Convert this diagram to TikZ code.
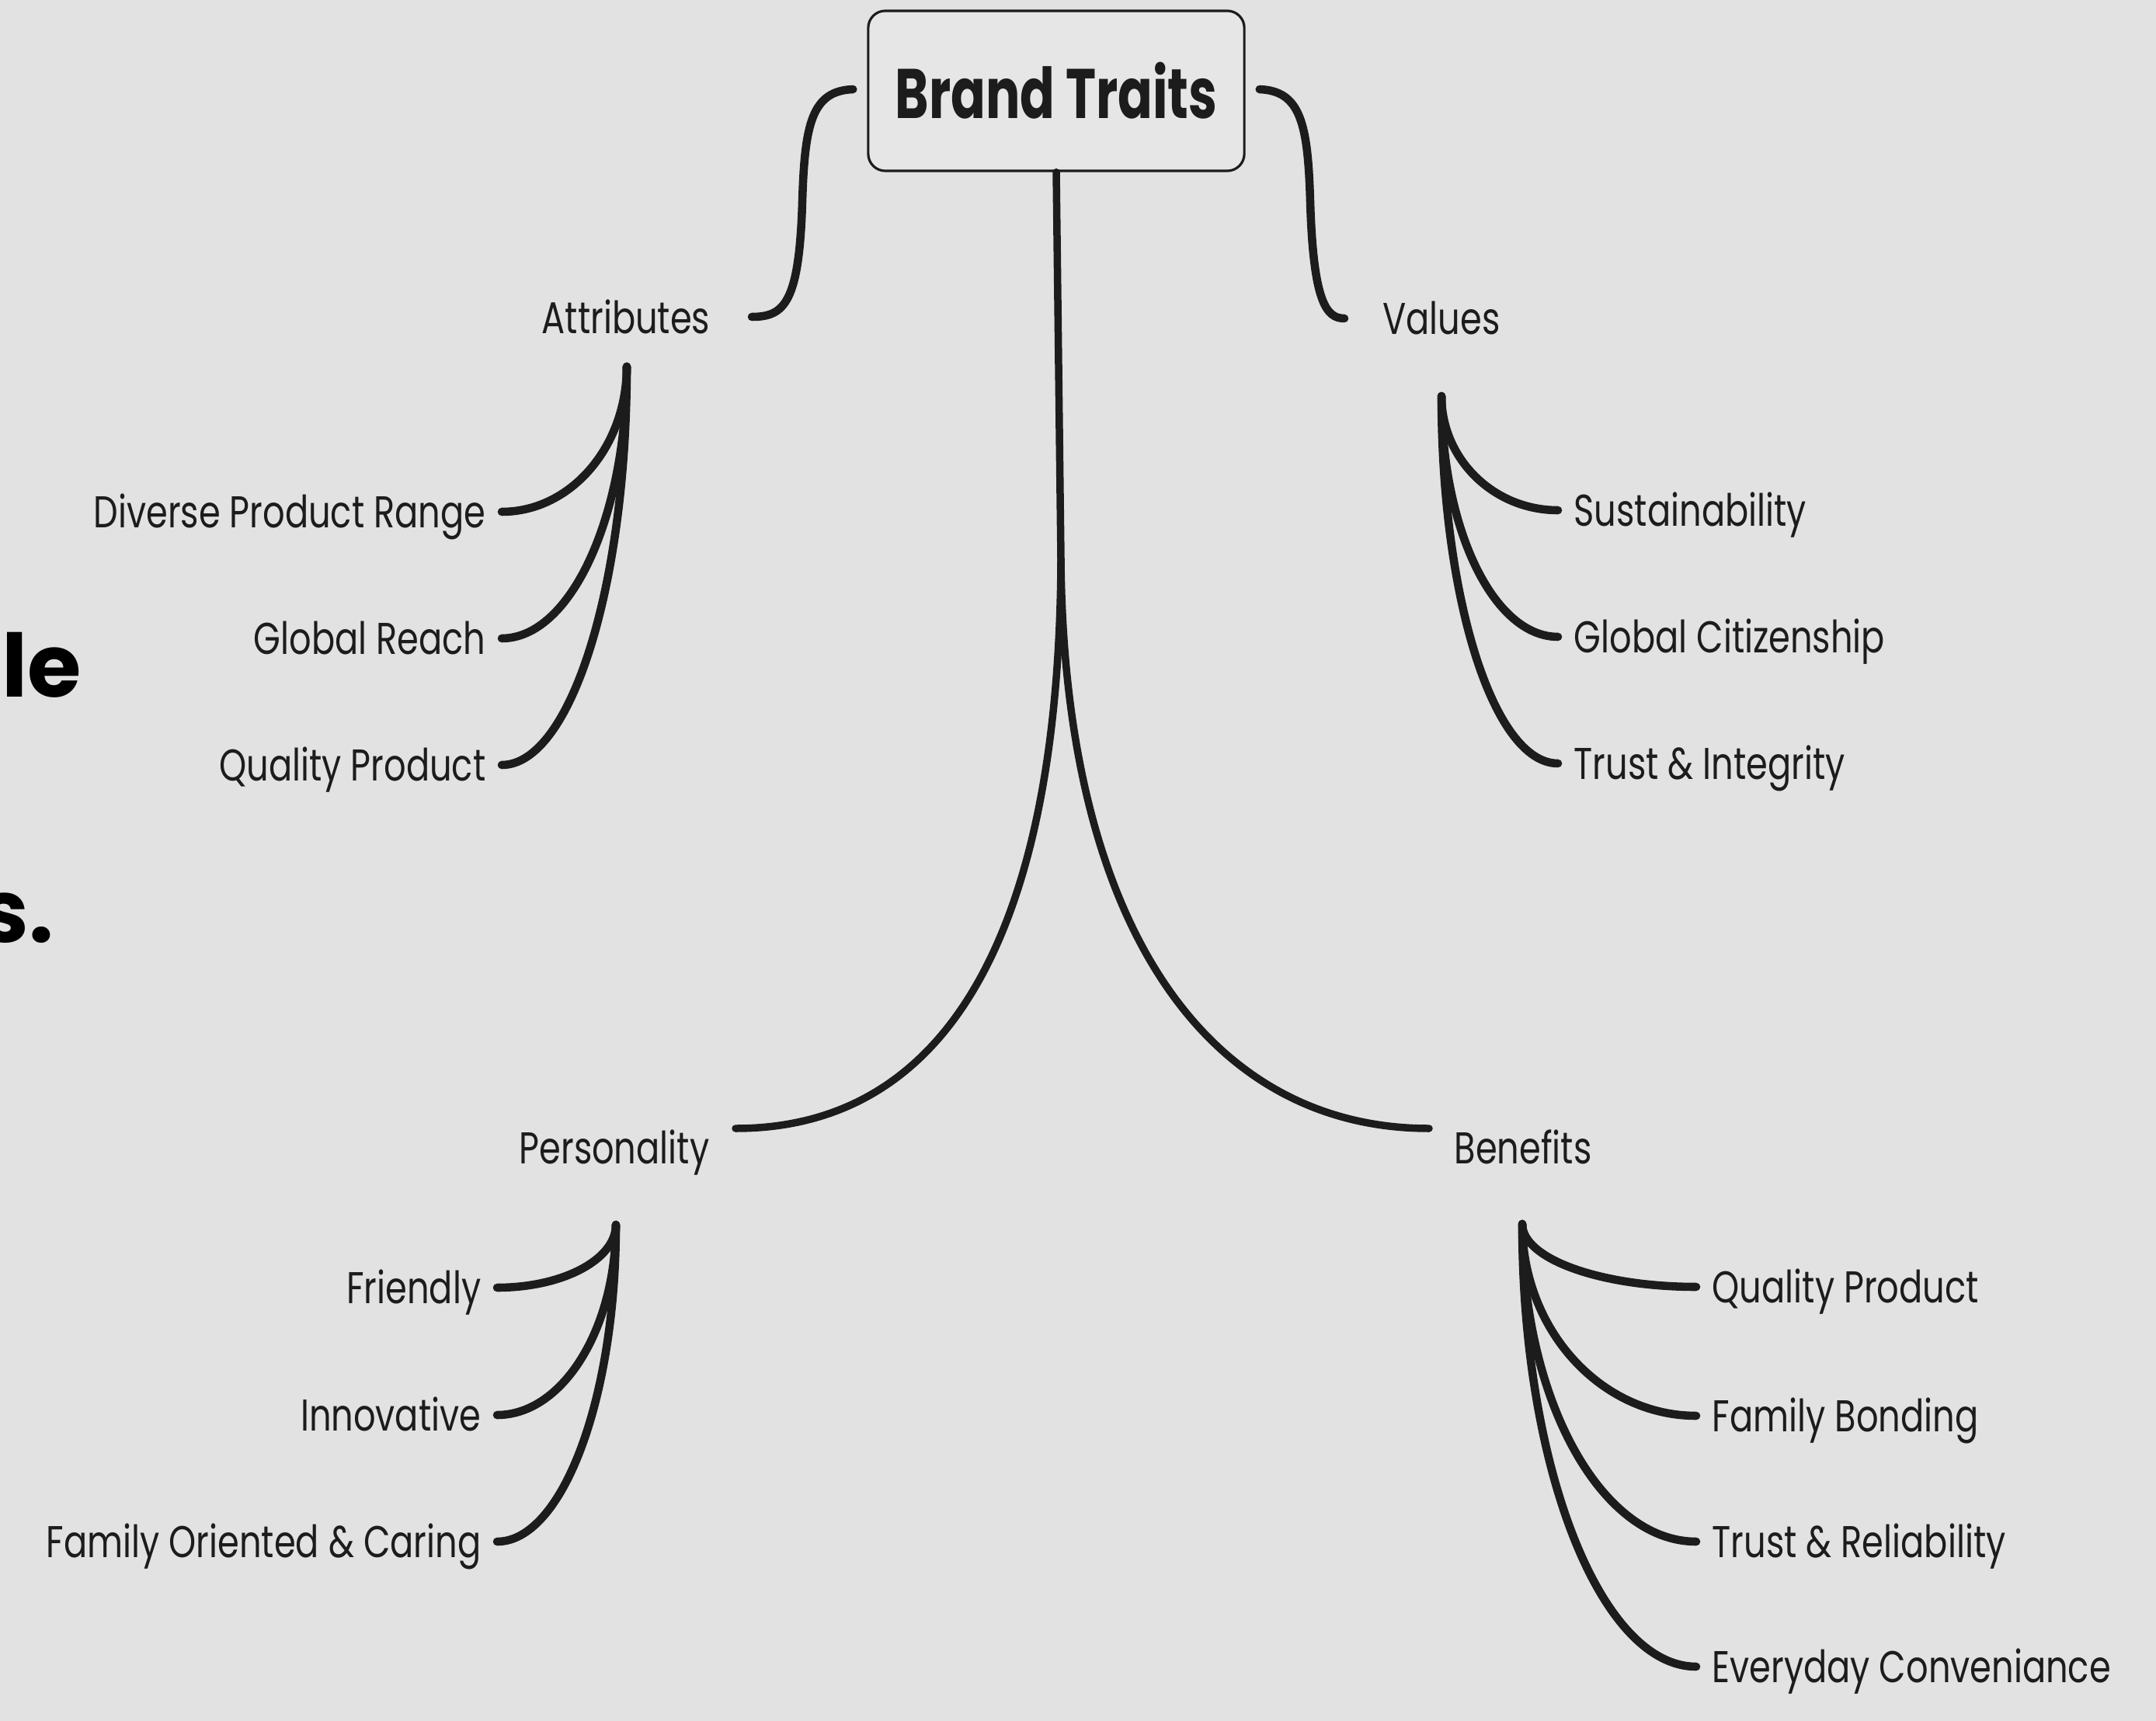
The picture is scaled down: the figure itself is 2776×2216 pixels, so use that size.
\documentclass[tikz,border=0pt]{standalone}
\usepackage{fontspec}
\setmainfont{Poppins}[FakeStretch=0.78]
\newfontfamily\titlefont{Poppins}[FakeStretch=0.73]
\newfontfamily\headfont{Poppins}
\usetikzlibrary{calc}
\definecolor{bgc}{HTML}{E2E2E2}
\definecolor{boxc}{HTML}{E6E6E6}
\definecolor{ink}{HTML}{1C1C1C}
\tikzset{
  conn/.style={draw=ink, line width=3pt, line cap=round},
  stem/.style={draw=ink, line width=2.7pt, line cap=round},
  lbl/.style={font=\fontsize{16.3}{18}\selectfont, text=ink, inner xsep=0.2cm, inner ysep=0pt, text height=0.40cm, text depth=0pt},
  head/.style={font=\fontsize{16.3}{18}\selectfont, text=ink, inner sep=0pt, text height=0.40cm, text depth=0pt},
  titlebox/.style={draw=ink, line width=0.9pt, rounded corners=0.22cm, fill=boxc, minimum width=4.84cm, minimum height=2.06cm, inner sep=0pt, font=\titlefont\fontsize{25.7}{28}\selectfont\bfseries, text=ink},
  frag/.style={font=\headfont\bfseries\fontsize{32}{34}\selectfont, text=black, inner sep=0pt}
}
\begin{document}
\begin{tikzpicture}[x=0.01cm,y=-0.01cm]
\fill[bgc] (0,0) rectangle (2776,2216);
\useasboundingbox (0,0) rectangle (2776,2216);

% cropped background text (cut at the left edge as in the reference)
\node[frag, anchor=base west] (fragA) at (2,898) {le};
\node[frag, anchor=base west] (fragB) at (-26,1213) {s.};

% root
\node[titlebox] (bt) at (1360,117) {Brand Traits};

% headers
\node[head, anchor=base] (attr) at (806,430) {Attributes};
\node[head, anchor=base] (val) at (1856,431) {Values};
\node[head, anchor=base] (pers) at (791,1498) {Personality};
\node[head, anchor=base] (ben) at (1961,1498) {Benefits};

% attribute items
\node[lbl, anchor=east] (a1) at (646,659) {Diverse Product Range};
\node[lbl, anchor=east] (a2) at (646,822) {Global Reach};
\node[lbl, anchor=east] (a3) at (646,985) {Quality Product};
% personality items
\node[lbl, anchor=east] (p1) at (640,1658) {Friendly};
\node[lbl, anchor=east] (p2) at (640,1822) {Innovative};
\node[lbl, anchor=east] (p3) at (640,1985) {Family Oriented \& Caring};
% values items
\node[lbl, anchor=west] (v1) at (2006,657) {Sustainability};
\node[lbl, anchor=west] (v2) at (2006,820) {Global Citizenship};
\node[lbl, anchor=west] (v3) at (2006,983) {Trust \& Integrity};
% benefits items
\node[lbl, anchor=west] (b1) at (2184,1657) {Quality Product};
\node[lbl, anchor=west] (b2) at (2184,1823) {Family Bonding};
\node[lbl, anchor=west] (b3) at (2184,1985) {Trust \& Reliability};
\node[lbl, anchor=west] (b4) at (2184,2146) {Everyday Conveniance};

% junction points
\coordinate (aTop) at (807,472);
\coordinate (vTop) at (1856,510);
\coordinate (pTop) at (793,1577);
\coordinate (bTop) at (1960,1576);
\coordinate (split) at (1366,720);
\coordinate (pEnd) at (947,1453);
\coordinate (bEnd) at (1840,1453);
\coordinate (aEnd) at (968,408);
\coordinate (vEnd) at (1731,410);

% brackets to Attributes / Values
\draw[conn] ($(bt.west)+(-18,-2)$) .. controls (1045,117) and (1036,160) .. (1033,260)
  .. controls (1029,390) and (1010,408) .. (aEnd);
\draw[conn] ($(bt.east)+(18,-2)$) .. controls (1675,117) and (1684,160) .. (1687,260)
  .. controls (1691,390) and (1708,410) .. (vEnd);

% main stem to Personality / Benefits
\draw[stem] (bt.south) -- (split) .. controls (1370,1200) and (1560,1453) .. (bEnd);
\draw[stem] (split) .. controls (1364,1200) and (1220,1453) .. (pEnd);

% Attributes branches
\draw[conn] (a1.east) .. controls +(89,0) and +(0,103) .. (aTop);
\draw[conn] (a2.east) .. controls +(89,0) and +(0,193) .. (aTop);
\draw[conn] (a3.east) .. controls +(89,0) and +(0,282) .. (aTop);
% Personality branches
\draw[conn] (p1.east) .. controls +(84,0) and +(0,45) .. (pTop);
\draw[conn] (p2.east) .. controls +(84,0) and +(0,135) .. (pTop);
\draw[conn] (p3.east) .. controls +(84,0) and +(0,224) .. (pTop);
% Values branches
\draw[conn] (vTop) .. controls +(0,81) and +(-83,0) .. (v1.west);
\draw[conn] (vTop) .. controls +(0,171) and +(-83,0) .. (v2.west);
\draw[conn] (vTop) .. controls +(0,260) and +(-83,0) .. (v3.west);
% Benefits branches
\draw[conn] (bTop) .. controls +(0,45) and +(-123,0) .. (b1.west);
\draw[conn] (bTop) .. controls +(0,136) and +(-123,0) .. (b2.west);
\draw[conn] (bTop) .. controls +(0,225) and +(-123,0) .. (b3.west);
\draw[conn] (bTop) .. controls +(0,314) and +(-123,0) .. (b4.west);
\end{tikzpicture}
\end{document}
